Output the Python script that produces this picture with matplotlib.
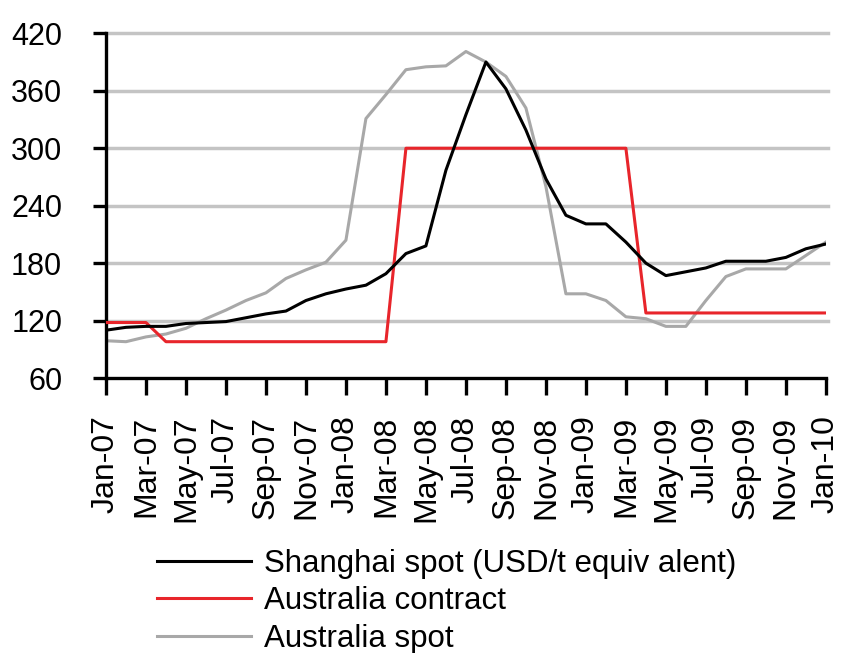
import numpy as np
import matplotlib
matplotlib.use('Agg')
import matplotlib.pyplot as plt

months = ['Jan-07', 'Feb-07', 'Mar-07', 'Apr-07', 'May-07', 'Jun-07', 'Jul-07', 'Aug-07',
          'Sep-07', 'Oct-07', 'Nov-07', 'Dec-07', 'Jan-08', 'Feb-08', 'Mar-08', 'Apr-08',
          'May-08', 'Jun-08', 'Jul-08', 'Aug-08', 'Sep-08', 'Oct-08', 'Nov-08', 'Dec-08',
          'Jan-09', 'Feb-09', 'Mar-09', 'Apr-09', 'May-09', 'Jun-09', 'Jul-09', 'Aug-09',
          'Sep-09', 'Oct-09', 'Nov-09', 'Dec-09', 'Jan-10']

shanghai_spot = [110, 113, 114, 114, 117, 118, 119, 123, 127, 130, 141, 148, 153, 157,
                 169, 190, 198, 277, 335, 390, 362, 319, 268, 230, 221, 221, 202, 180,
                 167, 171, 175, 182, 182, 182, 186, 195, 200]
australia_contract = [118, 118, 118, 98, 98, 98, 98, 98, 98, 98, 98, 98, 98, 98, 98,
                      300, 300, 300, 300, 300, 300, 300, 300, 300, 300, 300, 300,
                      128, 128, 128, 128, 128, 128, 128, 128, 128, 128]
australia_spot = [99, 98, 103, 106, 112, 122, 131, 141, 149, 164, 173, 181, 204, 331,
                  356, 382, 385, 386, 401, 390, 375, 342, 260, 148, 148, 141, 124, 122,
                  114, 114, 141, 166, 174, 174, 174, 188, 202]

y_ticks = [60, 120, 180, 240, 300, 360, 420]
legend_labels = ['Shanghai spot (USD/t equiv alent)', 'Australia contract', 'Australia spot']

plt.rcParams['font.family'] = ['Liberation Sans', 'DejaVu Sans']

fig = plt.figure(figsize=(8.41, 6.53), dpi=100)
ax = fig.add_axes([0.126, 0.421, 0.856, 0.528])

x = np.arange(len(months))
l1, = ax.plot(x, shanghai_spot, color='black', lw=2.2, zorder=4)
l2, = ax.plot(x, australia_contract, color='#e8252b', lw=2.2, zorder=3)
l3, = ax.plot(x, australia_spot, color='#a8a8a8', lw=2.2, zorder=2)

ax.set_xlim(0, 36)
ax.set_ylim(60, 420)
ax.set_yticks(y_ticks)
ax.set_xticks(x[::2])
ax.set_xticklabels(months[::2], rotation=90)

for y in y_ticks[1:]:
    ax.axhline(y, xmax=1.003, color='#c4c4c4', lw=2.5, zorder=1, clip_on=False)

for s in ['top', 'right']:
    ax.spines[s].set_visible(False)
for s in ['left', 'bottom']:
    ax.spines[s].set_linewidth(2.4)

ax.tick_params(axis='y', length=9.5, width=2.4, labelsize=22, pad=22)
ax.tick_params(axis='x', length=12, width=2.4, labelsize=23, pad=15)

fig.legend([l1, l2, l3], legend_labels,
           loc='upper left', bbox_to_anchor=(0.187, 0.16), frameon=False,
           fontsize=22.5, handlelength=3.0, handletextpad=0.4, labelspacing=0.25,
           borderpad=0, borderaxespad=0)

fig.savefig('out.png', dpi=100)
